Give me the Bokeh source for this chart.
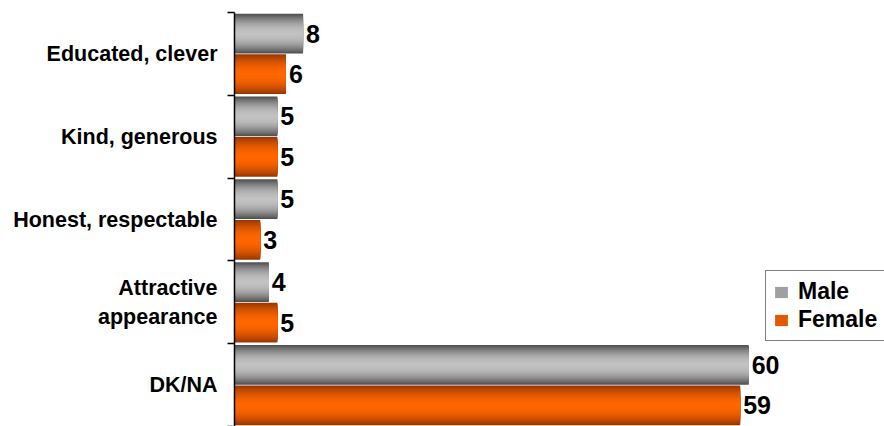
from bokeh.plotting import figure
from bokeh.models import (ColumnDataSource, Range1d, FixedTicker, Legend, LegendItem)
from bokeh.core.properties import value
from bokeh.embed import file_html
from bokeh.resources import INLINE

categories = ["Educated, clever", "Kind, generous", "Honest, respectable",
              "Attractive\nappearance", "DK/NA"]
male = [8, 5, 5, 4, 60]
female = [6, 5, 3, 5, 59]
series_names = ["Male", "Female"]

FONT = "Liberation Sans"
n = len(categories)
centers = [n - i - 0.5 for i in range(n)]
boundaries = [float(i) for i in range(n + 1)]

BAR_H = 0.48
OFFSET = 0.245
N_LAYERS = 20


def hex_to_rgb(h):
    h = h.lstrip("#")
    return tuple(int(h[i:i + 2], 16) for i in (0, 2, 4))


def mix(edge, center, f):
    e, c = hex_to_rgb(edge), hex_to_rgb(center)
    return "#%02x%02x%02x" % tuple(int(round(e[j] + (c[j] - e[j]) * f)) for j in range(3))


styles = {
    "Male": ("#505050", "#c2c2c2", +OFFSET),
    "Female": ("#983800", "#ff6600", -OFFSET),
}

p = figure(width=884, height=426, x_range=Range1d(0, 650 / 8.57), y_range=Range1d(0, n),
           output_backend="svg", toolbar_location=None, x_axis_location=None,
           min_border_left=234, min_border_right=0, min_border_top=12, min_border_bottom=0)
p.outline_line_color = None
p.xgrid.visible = False
p.ygrid.visible = False
p.background_fill_color = "white"
p.border_fill_color = "white"

renderers = {}
for name, vals in zip(series_names, [male, female]):
    edge, center, off = styles[name]
    ys, rights, heights, colors = [], [], [], []
    # nested layers: outer (dark) first, inner (light) on top
    for k in range(N_LAYERS):
        t = 1 - k / N_LAYERS
        f = 1 - t ** 2
        for ci, v in zip(centers, vals):
            ys.append(ci + off)
            rights.append(v)
            heights.append(BAR_H * t)
            colors.append(mix(edge, center, f))
    src = ColumnDataSource(dict(y=ys, right=rights, h=heights, color=colors))
    r = p.hbar(y="y", right="right", left=0, height="h",
               fill_color="color", line_color=None, source=src)
    renderers[name] = r
    lab = ColumnDataSource(dict(x=vals, y=[c + off for c in centers],
                                t=[str(v) for v in vals]))
    p.text(x="x", y="y", text="t", source=lab, x_offset=3, text_baseline="middle",
           text_align="left", text_font=value(FONT), text_font_style="bold",
           text_font_size="25px", text_color="black")

legend_index = n * int(N_LAYERS * 0.45)
legend = Legend(items=[LegendItem(label=nm, renderers=[renderers[nm]], index=legend_index)
                       for nm in series_names],
                location=(531, 85), orientation="vertical",
                border_line_color="black", border_line_width=1,
                background_fill_color="white", background_fill_alpha=1,
                label_text_font=FONT, label_text_font_style="bold",
                label_text_font_size="23px", label_text_color="black",
                glyph_width=16, glyph_height=14, label_standoff=9,
                padding=7, spacing=1, margin=0)
p.add_layout(legend)

ax = p.yaxis[0]
ax.ticker = FixedTicker(ticks=centers, minor_ticks=boundaries)
ax.major_label_overrides = {float(c): lbl for c, lbl in zip(centers, categories)}
ax.major_tick_line_color = None
ax.major_tick_out = 0
ax.major_tick_in = 0
ax.minor_tick_line_color = "black"
ax.minor_tick_out = 7
ax.minor_tick_in = 0
ax.minor_tick_line_width = 1.5
ax.axis_line_color = "black"
ax.axis_line_width = 1.5
ax.major_label_standoff = 10
ax.major_label_text_font = FONT
ax.major_label_text_font_style = "bold"
ax.major_label_text_font_size = "21.5px"
ax.major_label_text_color = "black"

open("out.html", "w").write(file_html(p, INLINE))
